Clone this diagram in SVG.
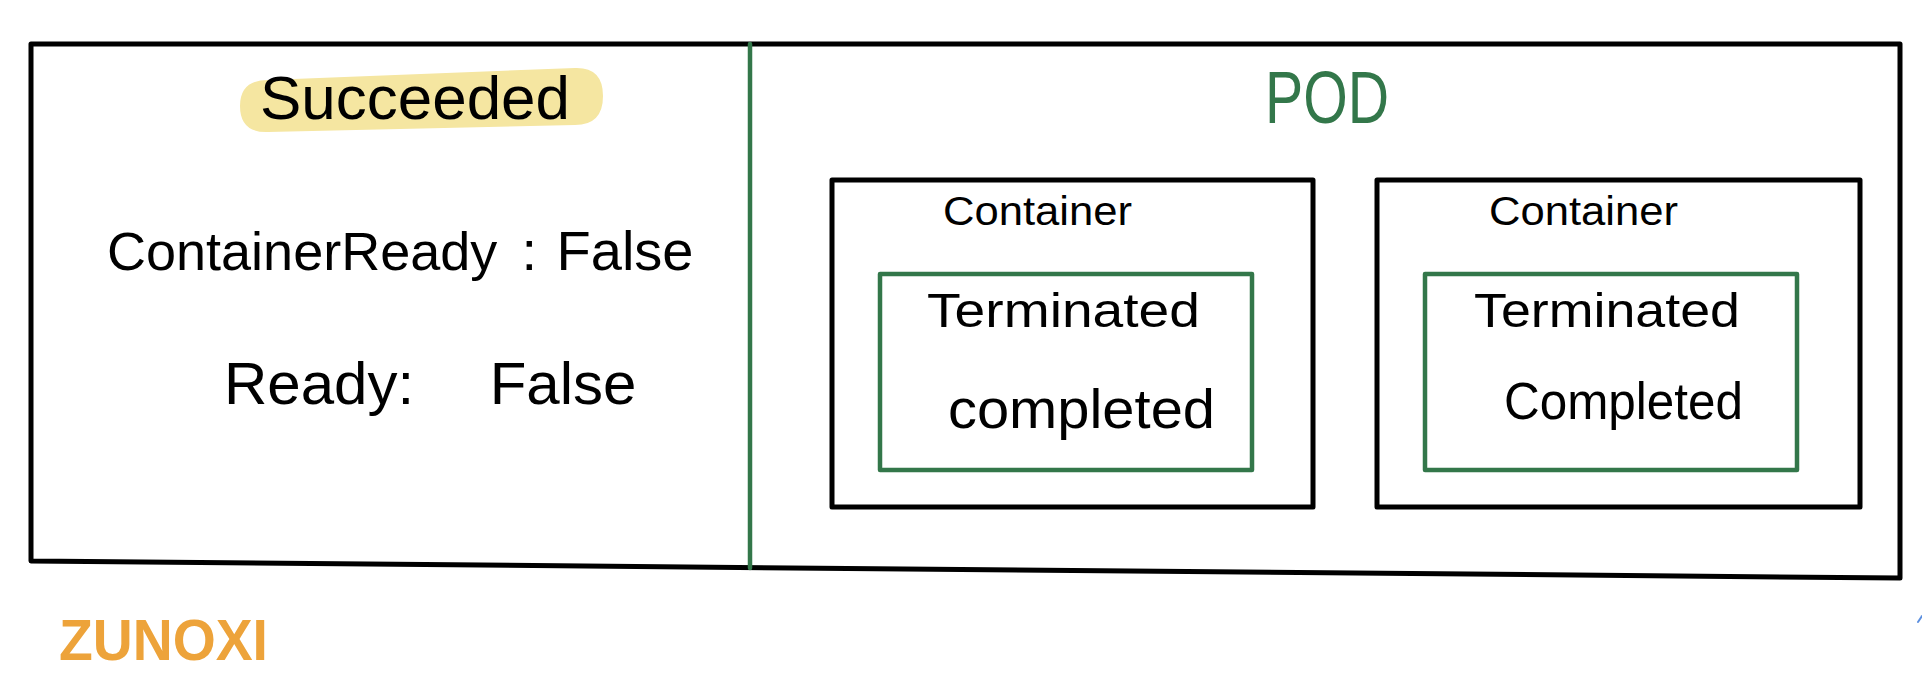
<svg xmlns="http://www.w3.org/2000/svg" width="1922" height="697" viewBox="0 0 1922 697">
<style>
.blk{fill:none;stroke:#000;stroke-width:5;stroke-linejoin:round;stroke-linecap:round}
.grn{fill:none;stroke:#33774A;stroke-width:4.5;stroke-linejoin:round;stroke-linecap:round}
.t{font-family:"Liberation Sans","DejaVu Sans",sans-serif;fill:#000}
.pod{font-family:"Liberation Sans","DejaVu Sans",sans-serif;fill:#33774A}
.sig{font-family:"Liberation Sans","DejaVu Sans",sans-serif;fill:#EDA33A;font-weight:bold}
</style>
<rect width="1922" height="697" fill="#fff"/>
<g id="frame">
  <polygon class="blk" points="31,44 1900,44 1900,578 31,561"/>
</g>
<g id="connectors">
  <line class="grn" x1="750" y1="44" x2="750" y2="568" stroke-width="5"/>
</g>
<g id="status-panel">
  <path d="M268,80 L575,68 Q603,67 603,96 Q603,125 575,125 L268,132 Q240,133 240,106 Q240,80 268,80 Z" fill="#F5E6A1"/>
  <text class="t" x="260" y="119" font-size="62" textLength="310" lengthAdjust="spacingAndGlyphs">Succeeded</text>
  <text class="t" font-size="56" y="270" xml:space="preserve"><tspan x="107" font-size="54">ContainerReady</tspan><tspan x="506"> :</tspan><tspan x="541"> False</tspan></text>
  <text class="t" font-size="60" y="404" xml:space="preserve"><tspan x="224">Ready:</tspan><tspan x="473"> False</tspan></text>
</g>
<g id="pod">
  <text class="pod" x="1265" y="123" font-size="74" textLength="124" lengthAdjust="spacingAndGlyphs">POD</text>
</g>
<g id="container-1">
  <rect class="blk" x="832" y="180" width="481" height="327"/>
  <text class="t" x="943" y="225" font-size="40" textLength="189" lengthAdjust="spacingAndGlyphs">Container</text>
  <g id="state-1">
    <rect class="grn" x="880" y="274" width="372" height="196"/>
    <text class="t" x="927" y="327" font-size="48" textLength="273" lengthAdjust="spacingAndGlyphs">Terminated</text>
    <text class="t" x="948" y="428" font-size="56" textLength="267" lengthAdjust="spacingAndGlyphs">completed</text>
  </g>
</g>
<g id="container-2">
  <rect class="blk" x="1377" y="180" width="483" height="327"/>
  <text class="t" x="1489" y="225" font-size="40" textLength="189" lengthAdjust="spacingAndGlyphs">Container</text>
  <g id="state-2">
    <rect class="grn" x="1425" y="274" width="372" height="196"/>
    <text class="t" x="1474" y="327" font-size="48" textLength="266" lengthAdjust="spacingAndGlyphs">Terminated</text>
    <text class="t" x="1504" y="419" font-size="52" textLength="239" lengthAdjust="spacingAndGlyphs">Completed</text>
  </g>
</g>
<g id="signature">
  <text class="sig" x="59" y="660" font-size="58" textLength="209" lengthAdjust="spacingAndGlyphs">ZUNOXI</text>
</g>
<line x1="1918" y1="622" x2="1922" y2="616" stroke="#5B8FE0" stroke-width="2" stroke-linecap="round"/>
</svg>
